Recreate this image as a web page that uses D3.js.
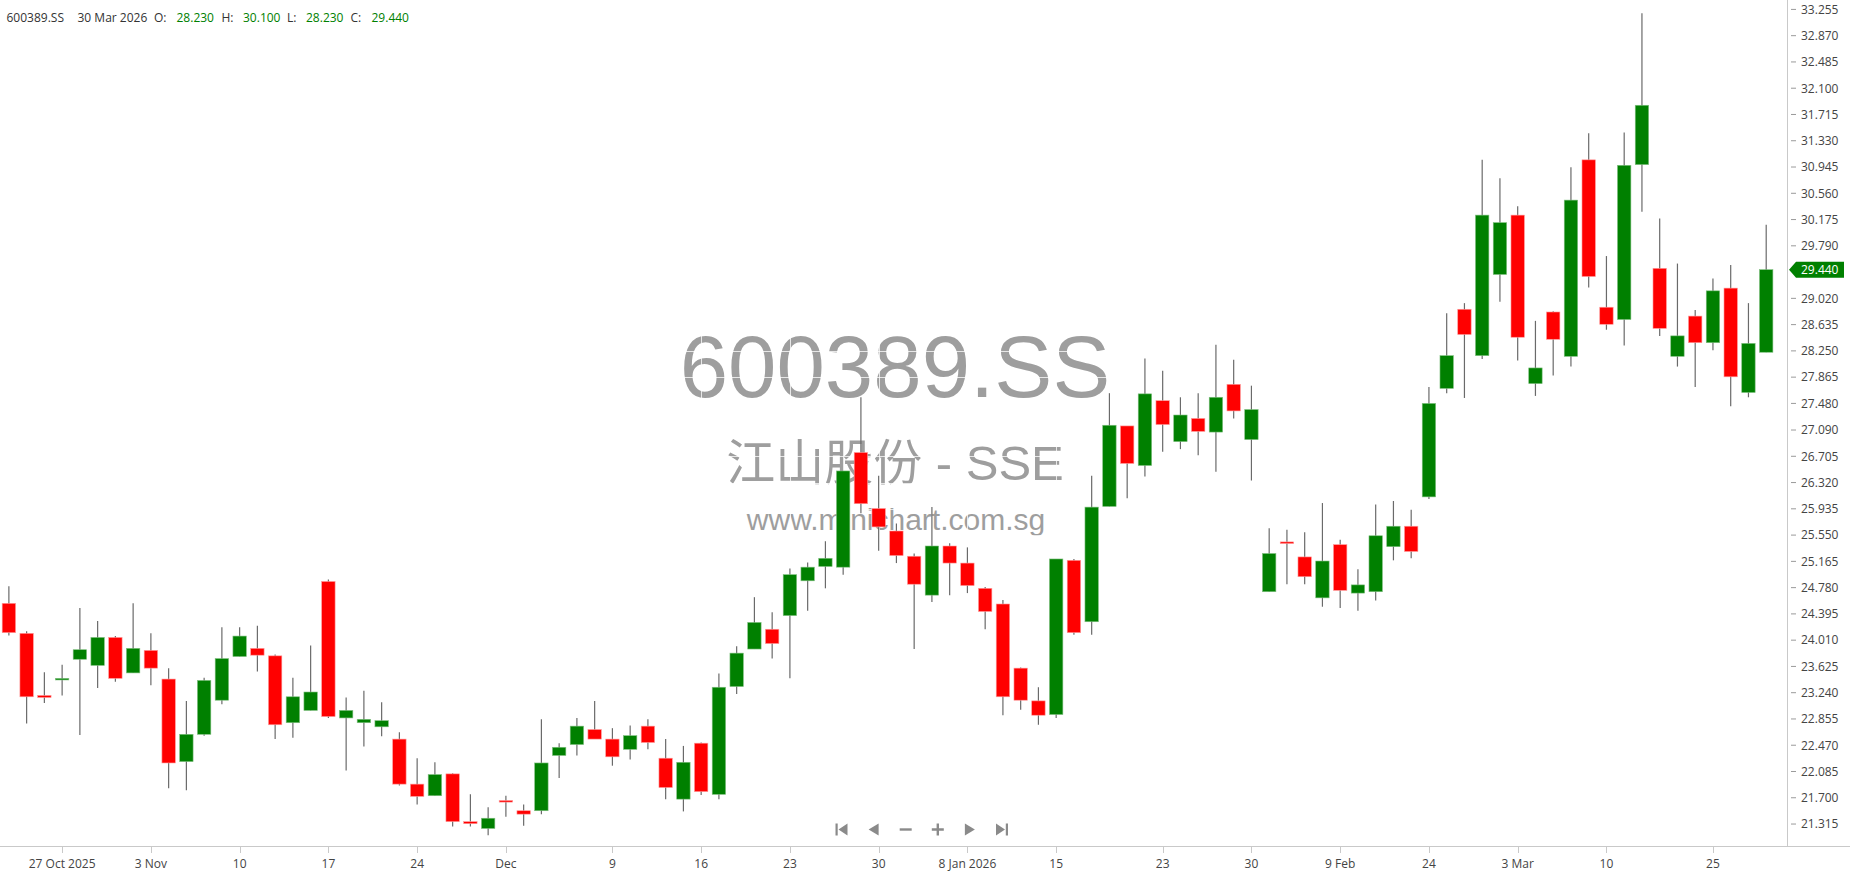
<!DOCTYPE html>
<html><head><meta charset="utf-8">
<script src="https://cdn.jsdelivr.net/npm/d3@7/dist/d3.min.js"></script>
<style>
html,body{margin:0;padding:0;background:#fff;overflow:hidden;}
svg{display:block;}
</style></head><body>
<svg id="chart" width="1850" height="874"></svg>
<script>
// ---------------- DATA ----------------
const symbol = "600389.SS";
const companyLine = "江山股份 - SSE";
const websiteLine = "www.minichart.com.sg";
const headerDate = "30 Mar 2026";

const dates = [
"2025-10-22","2025-10-23","2025-10-24","2025-10-27","2025-10-28","2025-10-29","2025-10-30","2025-10-31",
"2025-11-03","2025-11-04","2025-11-05","2025-11-06","2025-11-07","2025-11-10","2025-11-11","2025-11-12",
"2025-11-13","2025-11-14","2025-11-17","2025-11-18","2025-11-19","2025-11-20","2025-11-21","2025-11-24",
"2025-11-25","2025-11-26","2025-11-27","2025-11-28","2025-12-01","2025-12-02","2025-12-03","2025-12-04",
"2025-12-05","2025-12-08","2025-12-09","2025-12-10","2025-12-11","2025-12-12","2025-12-15","2025-12-16",
"2025-12-17","2025-12-18","2025-12-19","2025-12-22","2025-12-23","2025-12-24","2025-12-25","2025-12-26",
"2025-12-29","2025-12-30","2025-12-31","2026-01-05","2026-01-06","2026-01-07","2026-01-08","2026-01-09",
"2026-01-12","2026-01-13","2026-01-14","2026-01-15","2026-01-16","2026-01-19","2026-01-20","2026-01-21",
"2026-01-22","2026-01-23","2026-01-26","2026-01-27","2026-01-28","2026-01-29","2026-01-30","2026-02-02",
"2026-02-03","2026-02-04","2026-02-05","2026-02-09","2026-02-10","2026-02-11","2026-02-12","2026-02-13",
"2026-02-24","2026-02-25","2026-02-26","2026-02-27","2026-03-02","2026-03-03","2026-03-04","2026-03-05",
"2026-03-06","2026-03-09","2026-03-10","2026-03-18","2026-03-19","2026-03-20","2026-03-23","2026-03-24",
"2026-03-25","2026-03-26","2026-03-27","2026-03-30"];

const open = [
24.55,24.11,23.20,23.43,23.73,23.64,24.05,23.53,23.86,23.44,
22.23,22.63,23.13,23.77,23.89,23.78,22.80,22.98,24.87,22.87,
22.80,22.74,22.56,21.90,21.73,22.05,21.35,21.25,21.66,21.51,
21.51,22.32,22.48,22.70,22.56,22.41,22.75,22.28,21.68,22.50,
21.75,23.33,23.88,24.17,24.37,24.88,25.09,25.08,26.76,25.94,
25.61,25.24,24.67,25.39,25.14,24.77,24.54,23.60,23.12,22.92,
25.18,24.28,25.97,27.15,26.57,27.52,26.92,27.26,27.06,27.76,
26.95,24.72,25.45,25.23,24.63,25.41,24.70,24.72,25.38,25.68,
26.11,27.70,28.86,28.18,29.37,30.24,27.77,28.82,28.17,31.05,
28.89,28.71,30.98,29.46,28.17,28.76,28.37,29.17,27.64,28.23];

const high = [
24.80,24.14,23.54,23.65,24.48,24.29,24.07,24.55,24.11,23.60,
23.12,23.46,24.20,24.20,24.22,23.80,23.46,23.93,24.90,23.17,
23.27,23.10,22.66,22.28,22.22,22.06,21.75,21.56,21.73,21.60,
22.85,22.50,22.87,23.12,22.72,22.76,22.85,22.56,22.46,22.51,
23.52,23.92,24.64,24.42,25.06,25.15,25.46,26.49,27.57,26.42,
25.72,25.28,25.96,25.43,25.37,24.79,24.60,23.61,23.32,25.20,
25.20,26.42,27.63,27.15,28.14,27.96,27.57,27.63,28.34,28.12,
27.74,25.65,25.63,25.59,26.02,25.48,25.05,26.00,26.05,25.92,
27.72,28.80,28.95,31.05,30.78,30.37,28.69,28.83,30.94,31.44,
29.64,31.45,33.20,30.19,29.53,28.85,29.31,29.51,28.95,30.10];

const low = [
24.08,22.79,23.09,23.20,22.62,23.31,23.40,23.53,23.35,21.84,
21.81,22.61,23.07,23.77,23.55,22.56,22.58,22.98,22.87,22.10,
22.45,22.60,21.88,21.60,21.73,21.28,21.28,21.15,21.42,21.29,
21.46,21.99,22.32,22.56,22.17,22.26,22.41,21.68,21.50,21.74,
21.68,23.22,23.88,23.74,23.45,24.44,24.77,24.97,25.87,25.32,
25.14,23.88,24.57,24.67,24.70,24.17,22.91,22.99,22.77,22.87,
24.09,24.09,25.97,26.09,26.41,26.77,26.81,26.72,26.48,27.26,
26.35,24.72,24.83,24.83,24.50,24.48,24.44,24.59,25.18,25.21,
26.08,27.63,27.56,28.13,28.97,28.11,27.59,27.89,28.02,29.18,
28.56,28.33,30.29,28.47,28.02,27.72,28.26,27.44,27.57,28.23];

const close = [
24.12,23.18,23.17,23.45,23.87,24.05,23.45,23.89,23.60,22.21,
22.63,23.42,23.74,24.07,23.79,22.77,23.18,23.25,22.89,22.98,
22.85,22.83,21.90,21.72,22.04,21.35,21.32,21.40,21.64,21.46,
22.21,22.44,22.75,22.56,22.30,22.61,22.51,21.85,22.22,21.79,
23.32,23.82,24.27,23.96,24.97,25.08,25.21,26.49,26.01,25.67,
25.25,24.83,25.39,25.14,24.81,24.43,23.18,23.13,22.91,25.20,
24.12,25.96,27.16,26.60,27.62,27.17,27.31,27.07,27.57,27.37,
27.39,25.28,25.43,24.94,25.17,24.74,24.82,25.54,25.68,25.31,
27.48,28.18,28.49,30.24,30.13,28.45,28.00,28.42,30.46,29.34,
28.64,30.97,31.85,28.58,28.47,28.37,29.13,27.87,28.36,29.44];

const yTickValues = [21.315,21.700,22.085,22.470,22.855,23.240,23.625,24.010,24.395,24.780,
  25.165,25.550,25.935,26.320,26.705,27.090,27.480,27.865,28.250,28.635,29.020,29.790,
  30.175,30.560,30.945,31.330,31.715,32.100,32.485,32.870,33.255];
const yTickLabels = ["21.315","21.700","22.085","22.470","22.855","23.240","23.625","24.010","24.395","24.780",
  "25.165","25.550","25.935","26.320","26.705","27.090","27.480","27.865","28.250","28.635","29.020","29.790",
  "30.175","30.560","30.945","31.330","31.715","32.100","32.485","32.870","33.255"];

const xTickDates = ["2025-10-27","2025-11-03","2025-11-10","2025-11-17","2025-11-24","2025-12-01","2025-12-09",
  "2025-12-16","2025-12-23","2025-12-30","2026-01-08","2026-01-15","2026-01-23","2026-01-30","2026-02-09",
  "2026-02-24","2026-03-03","2026-03-10","2026-03-25"];
const xTickLabels = ["27 Oct 2025","3 Nov","10","17","24","Dec","9","16","23","30","8 Jan 2026","15","23","30",
  "9 Feb","24","3 Mar","10","25"];

// ---------------- CHART ----------------
const UP = "#008000", DOWN = "#ff0000";
const plotRight = 1787.5, plotBottom = 846;
const svg = d3.select("#chart");
const font = "'Open Sans', 'Noto Sans', sans-serif";

const x = d3.scaleLinear().domain([-0.5, 100.2]).range([0, plotRight]);
const y = d3.scaleLinear().domain([20.993, 33.393]).range([plotBottom, 0]);

const candles = dates.map((d, i) => ({i, d, o: open[i], h: high[i], l: low[i], c: close[i]}));

// watermark
const wm = svg.append("g").attr("fill", "#9e9e9e").attr("text-anchor", "middle");
wm.append("text").attr("x", 895).attr("y", 396.5)
  .attr("font-family", "'Liberation Sans', Arial, sans-serif").attr("font-size", 87).text(symbol);
wm.append("text").attr("x", 895).attr("y", 480)
  .attr("font-family", "'Liberation Sans', 'Noto Sans CJK SC', sans-serif").attr("font-size", 49).text(companyLine);
wm.append("text").attr("x", 896).attr("y", 530)
  .attr("font-family", "'Liberation Sans', Arial, sans-serif").attr("font-size", 30).text(websiteLine);

// white grid lines (only visible across watermark)
const grid = svg.append("g").attr("stroke", "#ffffff").attr("stroke-opacity", 0.75).attr("stroke-width", 1);
grid.selectAll("line.h").data(yTickValues).join("line").attr("class", "h")
  .attr("x1", 0).attr("x2", plotRight).attr("y1", d => Math.round(y(d)) + 0.5).attr("y2", d => Math.round(y(d)) + 0.5);
const xTickIdx = xTickDates.map(d => dates.indexOf(d));
grid.selectAll("line.v").data(xTickIdx).join("line").attr("class", "v")
  .attr("y1", 0).attr("y2", plotBottom).attr("x1", d => Math.round(x(d)) + 0.5).attr("x2", d => Math.round(x(d)) + 0.5);

// candles
const cg = svg.append("g");
cg.selectAll("line.wick").data(candles).join("line").attr("class", "wick")
  .attr("x1", d => x(d.i)).attr("x2", d => x(d.i))
  .attr("y1", d => y(d.h)).attr("y2", d => y(d.l))
  .attr("stroke", "#6a6a6a").attr("stroke-width", 1.2);
const bw = 13.4;
cg.selectAll("rect.body").data(candles).join("rect").attr("class", "body")
  .attr("x", d => x(d.i) - bw / 2).attr("width", bw)
  .attr("y", d => Math.min(y(d.o), y(d.c)))
  .attr("height", d => Math.max(1.6, Math.abs(y(d.o) - y(d.c))))
  .attr("fill", d => d.c >= d.o ? UP : DOWN)
  .attr("stroke", d => d.c >= d.o ? "#7fbf7f" : "#ff9a9a")
  .attr("stroke-width", 0.6);

// axes
const axisColor = "#c9c9c9";
svg.append("line").attr("x1", 0).attr("x2", 1850).attr("y1", plotBottom + 0.5).attr("y2", plotBottom + 0.5)
  .attr("stroke", axisColor);
svg.append("line").attr("x1", plotRight).attr("x2", plotRight).attr("y1", 0).attr("y2", plotBottom)
  .attr("stroke", axisColor);

const yAxis = svg.append("g");
yAxis.selectAll("line").data(yTickValues).join("line")
  .attr("x1", 1791).attr("x2", 1796).attr("y1", d => y(d)).attr("y2", d => y(d))
  .attr("stroke", "#9a9a9a");
yAxis.selectAll("text").data(yTickValues).join("text")
  .attr("x", 1801).attr("y", d => y(d) + 4.3)
  .attr("font-family", font).attr("font-size", 12).attr("fill", "#444")
  .text((d, i) => yTickLabels[i]);

const xAxis = svg.append("g");
xAxis.selectAll("line").data(xTickIdx).join("line")
  .attr("x1", d => Math.round(x(d)) + 0.5).attr("x2", d => Math.round(x(d)) + 0.5)
  .attr("y1", plotBottom + 1).attr("y2", plotBottom + 7).attr("stroke", axisColor);
xAxis.selectAll("text").data(xTickIdx).join("text")
  .attr("x", d => x(d)).attr("y", 867.5).attr("text-anchor", "middle")
  .attr("font-family", font).attr("font-size", 12).attr("fill", "#444")
  .text((d, i) => xTickLabels[i]);

// last price marker
const last = candles[candles.length - 1];
const yc = y(last.c);
svg.append("path")
  .attr("d", `M1789,${yc} L1796,${yc - 8} L1844,${yc - 8} L1844,${yc + 8} L1796,${yc + 8} Z`)
  .attr("fill", UP);
svg.append("text").attr("x", 1801).attr("y", yc + 4.3)
  .attr("font-family", font).attr("font-size", 12).attr("fill", "#fff").text(last.c.toFixed(3));

// navigation buttons
const nav = svg.append("g").attr("fill", "#8a8a8a");
const ny = 829.5, nx0 = 841.5, nstep = 32.1;
const icons = [
  cx => `M${cx-6},${ny-6}h2.2v12h-2.2Z M${cx+6},${ny-6}L${cx-3},${ny}L${cx+6},${ny+6}Z`,
  cx => `M${cx+5},${ny-6}L${cx-5},${ny}L${cx+5},${ny+6}Z`,
  cx => `M${cx-6},${ny-1.2}h12v2.4h-12Z`,
  cx => `M${cx-6},${ny-1.2}h12v2.4h-12Z M${cx-1.2},${ny-6}h2.4v12h-2.4Z`,
  cx => `M${cx-5},${ny-6}L${cx+5},${ny}L${cx-5},${ny+6}Z`,
  cx => `M${cx+3.8},${ny-6}h2.2v12h-2.2Z M${cx-6},${ny-6}L${cx+3},${ny}L${cx-6},${ny+6}Z`
];
icons.forEach((f, k) => nav.append("path").attr("d", f(nx0 + k * nstep)));

// header
const hdr = svg.append("g").attr("font-family", font).attr("font-size", 12);
const hy = 22;
const fmt = v => v.toFixed(3);
const headerItems = [
  {x: 6.5, t: symbol, c: "#333"},
  {x: 77.5, t: headerDate, c: "#333"},
  {x: 154, t: "O:", c: "#333"},
  {x: 176.5, t: fmt(last.o), c: UP},
  {x: 221.5, t: "H:", c: "#333"},
  {x: 243, t: fmt(last.h), c: UP},
  {x: 287, t: "L:", c: "#333"},
  {x: 306, t: fmt(last.l), c: UP},
  {x: 350.5, t: "C:", c: "#333"},
  {x: 371.5, t: fmt(last.c), c: UP}
];
headerItems.forEach(h => hdr.append("text").attr("x", h.x).attr("y", hy).attr("fill", h.c).text(h.t));
</script>
</body></html>
